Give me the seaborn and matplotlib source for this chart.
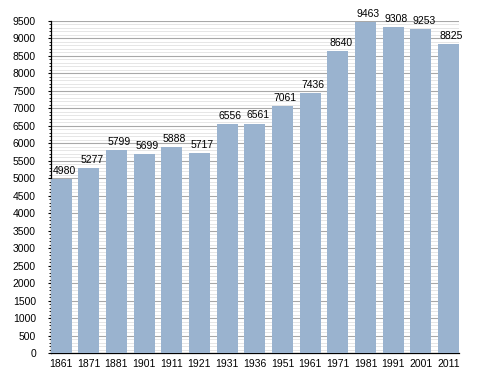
import matplotlib
matplotlib.use("Agg")
import matplotlib.pyplot as plt
from matplotlib.ticker import MultipleLocator
from matplotlib.transforms import offset_copy
import seaborn as sns
import pandas as pd

years = ["1861", "1871", "1881", "1901", "1911", "1921", "1931", "1936",
         "1951", "1961", "1971", "1981", "1991", "2001", "2011"]
population = [4980, 5277, 5799, 5699, 5888, 5717, 6556, 6561,
              7061, 7436, 8640, 9463, 9308, 9253, 8825]

df = pd.DataFrame({"year": years, "pop": population})

sns.set_style("white")
plt.rcParams['font.family'] = ['Liberation Sans', 'DejaVu Sans']
plt.rcParams['text.color'] = 'black'
plt.rcParams['xtick.color'] = 'black'
plt.rcParams['ytick.color'] = 'black'

fig = plt.figure(figsize=(4.88, 3.73), dpi=100)
ax = fig.add_axes([50.5/488, 1 - 353/373, 408.5/488, (353 - 20.7)/373])

sns.barplot(data=df, x="year", y="pop", color="#9ab3cf", saturation=1,
            width=0.76, ax=ax, zorder=3, linewidth=0, edgecolor="none")

ax.set_ylim(0, 9500)
ax.set_xlim(-0.38, len(years) - 1 + 0.38)
ax.yaxis.set_major_locator(MultipleLocator(500))
ax.yaxis.set_minor_locator(MultipleLocator(100))
ax.grid(axis="y", which="major", color="#a8a8a8", linewidth=0.8, zorder=0)
ax.grid(axis="y", which="minor", color="#e2e2e2", linewidth=0.6, zorder=0)
ax.set_axisbelow(True)

for s in ["top", "right"]:
    ax.spines[s].set_visible(False)
for s in ["left", "bottom"]:
    ax.spines[s].set_color("black")
    ax.spines[s].set_linewidth(0.9)

ax.tick_params(axis="y", which="major", length=2.5, width=0.8, color="black",
               labelsize=7.5, left=True, pad=8, labelcolor="black")
ax.tick_params(axis="y", which="minor", length=1.8, width=0.6, color="black", left=True)
ax.tick_params(axis="x", length=0, labelsize=7.5, pad=4, labelcolor="black")
ax.set_xlabel("")
ax.set_ylabel("")

trans = offset_copy(ax.transData, fig=fig, x=3, y=0, units="dots")
for i, v in enumerate(population):
    ax.text(i, v + 90, str(v), ha="center", va="bottom", fontsize=7.5,
            color="black", zorder=4, transform=trans, clip_on=False)

fig.savefig("out.png", dpi=100)
